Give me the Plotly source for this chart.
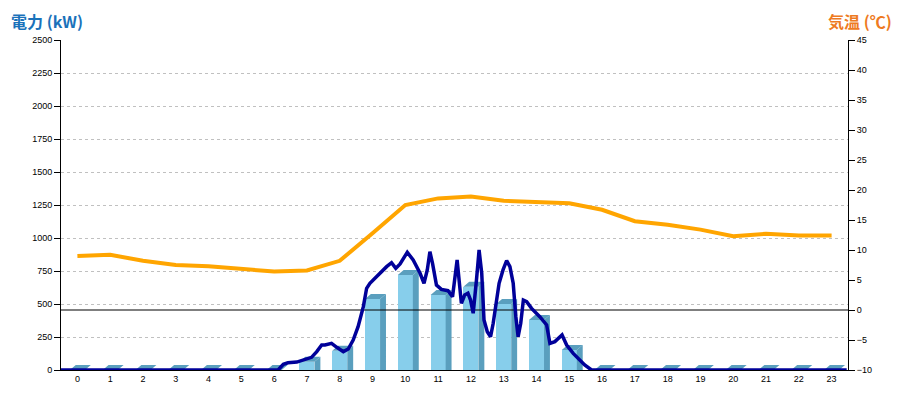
import plotly.graph_objects as go

# ---------------- data ----------------
hours = list(range(24))
power_bar_kw = [0, 0, 0, 0, 0, 0, 0, 63, 146, 538, 720, 568, 631, 500, 379, 152,
                0, 0, 0, 0, 0, 0, 0, 0]
temperature_c = [9.0, 9.2, 8.2, 7.5, 7.3, 6.8, 6.4, 6.6, 8.2, 12.8, 17.5, 18.6,
                 18.9, 18.2, 18.0, 17.8, 16.7, 14.8, 14.2, 13.4, 12.3, 12.7, 12.4, 12.4]
power_line_x = [-0.5, 6.12, 6.28, 6.42, 6.69, 6.89, 7.14, 7.30, 7.45, 7.55, 7.68, 7.75,
                7.91, 8.11, 8.26, 8.41, 8.56, 8.72, 8.82, 8.92, 9.12, 9.23, 9.43, 9.58,
                9.71, 9.84, 10.06, 10.24, 10.45, 10.57, 10.67, 10.75, 10.83, 10.95, 11.10,
                11.30, 11.44, 11.58, 11.71, 11.81, 11.91, 11.99, 12.07, 12.17, 12.25,
                12.33, 12.40, 12.50, 12.60, 12.68, 12.76, 12.86, 12.98, 13.09, 13.19,
                13.29, 13.37, 13.44, 13.52, 13.60, 13.70, 13.85, 14.10, 14.31, 14.41,
                14.56, 14.78, 14.92, 15.12, 15.32, 15.47, 15.68, 23.46]
power_line_kw = [0, 0, 43, 55, 60, 76, 96, 139, 189, 189, 197, 202,
                 172, 139, 159, 227, 328, 480, 619, 657, 707, 735, 783, 813,
                 770, 803, 892, 833, 733, 657, 758, 896, 808, 644, 611,
                 601, 555, 833, 505, 568, 581, 530, 430, 682, 909,
                 733, 379, 290, 252, 354, 505, 657, 758, 828, 783,
                 657, 404, 252, 354, 530, 518, 467, 404, 341, 202,
                 215, 265, 189, 126, 76, 38, 0, 0]
kw_ticks = list(range(0, 2501, 250))
temp_ticks = list(range(-10, 46, 5))

# ---------------- style ----------------
FRONT = "#87CEEB"
SIDE = "#5A9FBE"
HALF_W = 0.23      # half width of front face (category units)
DEPTH_X = 0.18     # 3D depth in category units
DEPTH_Y = 38       # 3D depth in kW units

side_x, side_y, top_x, top_y = [], [], [], []
for h, v in zip(hours, power_bar_kw):
    xl, xr = h - HALF_W, h + HALF_W
    if v > 0:
        side_x += [xr, xr + DEPTH_X, xr + DEPTH_X, xr, xr, None]
        side_y += [0, 0, v + DEPTH_Y, v, 0, None]
    top_x += [xl, xr, xr + DEPTH_X, xl + DEPTH_X, xl, None]
    top_y += [v, v, v + DEPTH_Y, v + DEPTH_Y, v, None]

fig = go.Figure()
fig.add_trace(go.Bar(x=hours, y=power_bar_kw, width=2 * HALF_W,
                     marker=dict(color=FRONT, line=dict(width=0)), hoverinfo="skip"))
fig.add_trace(go.Scatter(x=side_x, y=side_y, mode="none", fill="toself",
                         fillcolor=SIDE, hoverinfo="skip"))
fig.add_trace(go.Scatter(x=top_x, y=top_y, mode="none", fill="toself",
                         fillcolor=SIDE, hoverinfo="skip"))
# zero-degree reference line and temperature (right axis)
fig.add_trace(go.Scatter(x=[-0.5, 23.5], y=[0, 0], yaxis="y2", mode="lines",
                         line=dict(color="black", width=1), hoverinfo="skip"))
fig.add_trace(go.Scatter(x=hours, y=temperature_c, yaxis="y2", mode="lines",
                         line=dict(color="#FFA500", width=4)))
# power line (on top)
fig.add_trace(go.Scatter(x=power_line_x, y=power_line_kw, yaxis="y3", mode="lines",
                         line=dict(color="#000099", width=3.5)))

tickfont = dict(family="Liberation Sans, DejaVu Sans", size=9, color="black")
# the page body has an 8px default margin, so the figure is sized to compensate
fig.update_layout(
    width=892, height=392,
    margin=dict(l=53, r=52, t=32, b=30),
    plot_bgcolor="white", paper_bgcolor="white",
    showlegend=False, bargap=0,
    xaxis=dict(range=[-0.5, 23.5], tickmode="array", tickvals=hours,
               ticktext=[str(h) for h in hours], showgrid=False, zeroline=False,
               showline=True, linecolor="black", linewidth=1, ticks="",
               tickfont=tickfont, fixedrange=True),
    yaxis=dict(range=[0, 2500], tickmode="array", tickvals=kw_ticks,
               showgrid=True, gridcolor="#C0C0C0", griddash="dot", gridwidth=1,
               zeroline=False, showline=True, linecolor="black", linewidth=1,
               ticks="outside", ticklen=6, tickcolor="black", tickfont=tickfont),
    yaxis2=dict(range=[-10, 45], tickmode="array", tickvals=temp_ticks,
                overlaying="y", side="right", showgrid=False, zeroline=False,
                showline=True, linecolor="black", linewidth=1,
                ticks="outside", ticklen=6, tickcolor="black", tickfont=tickfont),
    yaxis3=dict(range=[0, 2500], overlaying="y", visible=False),
    annotations=[
        dict(text="<b>電力 (kW)</b>", xref="paper", yref="paper",
             x=-0.0648, y=1.059, xanchor="left", yanchor="middle", showarrow=False,
             borderpad=0,
             font=dict(family="Noto Sans CJK JP", size=16, color="#1A72BA")),
        dict(text="<b>気温 (℃)</b>", xref="paper", yref="paper",
             x=1.0572, y=1.059, xanchor="right", yanchor="middle", showarrow=False,
             borderpad=0,
             font=dict(family="Noto Sans CJK JP", size=16, color="#EE7A22")),
    ],
)

fig.write_html("out.html")
